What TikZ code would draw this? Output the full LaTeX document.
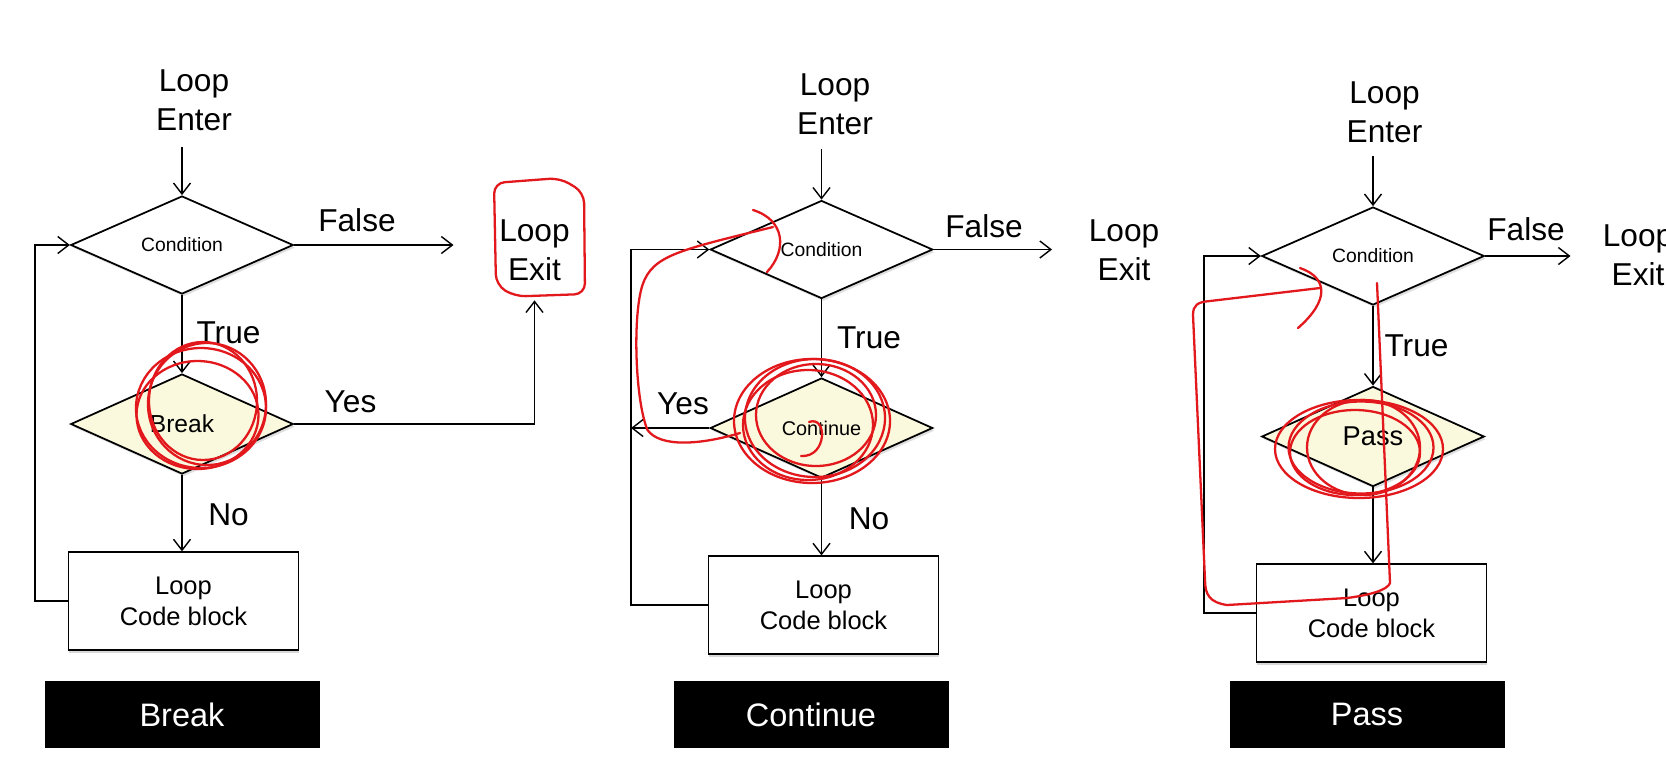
\documentclass[tikz,border=0pt]{standalone}
\usepackage{fontspec}
\setmainfont{Liberation Sans}
\usetikzlibrary{shapes.geometric,arrows.meta,shadows}
\definecolor{chiffon}{RGB}{251,249,221}
\definecolor{penred}{RGB}{226,24,28}

\begin{document}
\begin{tikzpicture}[
    flow/.style={-{Straight Barb[length=2.2mm,width=3.4mm]},line width=0.8pt},
    test/.style={diamond,draw,line width=1pt,fill=white,minimum width=4.45cm,minimum height=1.96cm,inner sep=0pt,
        font=\fontsize{11}{13}\selectfont,drop shadow={shadow xshift=1pt,shadow yshift=-1.5pt,opacity=0.25}},
    jump/.style={test,fill=chiffon,minimum height=2cm},
    block/.style={rectangle,draw,line width=1pt,fill=white,minimum width=4.6cm,minimum height=1.95cm,align=center,
        font=\fontsize{14.5}{17.5}\selectfont,drop shadow={shadow xshift=0pt,shadow yshift=-2pt,opacity=0.3}},
    word/.style={align=center,font=\fontsize{18}{22}\selectfont},
    tag/.style={fill=black,text=white,minimum width=5.5cm,minimum height=1.34cm,font=\fontsize{18.5}{22}\selectfont},
    pen/.style={draw=penred,line width=1.3pt,line cap=round,line join=round}
]
\path[use as bounding box,fill=white] (0,0) rectangle (33.32,-15.4);
\clip (0,0) rectangle (33.32,-15.4);

% break
\node[word]  (enter1) at (3.88,-2.01)  {Loop\\Enter};
\coordinate  (in1)    at (3.64,-2.94);
\node[test]  (cond1)  at (3.64,-4.90)  {Condition};
\node[word]  (false1) at (7.14,-4.40)  {False};
\coordinate  (f1)     at (9.07,-4.90);
\node[word,minimum height=2cm] (exit1) at (10.69,-5.00) {Loop\\Exit};
\node[word]  (true1)  at (4.57,-6.65)  {True};
\node[jump,font=\fontsize{14}{16}\selectfont] (brk) at (3.64,-8.48) {Break};
\node[word]  (yes1)   at (7.01,-8.03)  {Yes};
\node[word]  (no1)    at (4.57,-10.29) {No};
\node[block] (code1)  at (3.67,-12.02) {Loop\\Code block};
\coordinate  (b1)     at (0.70,-12.02);
\node[tag]   (tag1)   at (3.64,-14.29) {Break};

\draw[flow] (in1) -- (cond1.north);
\draw[flow] (cond1.east) -- (f1);
\draw[flow] (cond1.south) -- (brk.north);
\draw[flow] (brk.east) -| (exit1.south);
\draw[flow] (brk.south) -- (brk.south |- code1.north);
\draw[flow] (code1.west) -- (b1) |- (cond1.west);

% continue
\node[word]  (enter2) at (16.70,-2.08) {Loop\\Enter};
\coordinate  (in2)    at (16.43,-2.98);
\node[test]  (cond2)  at (16.43,-4.99) {Condition};
\node[word]  (false2) at (19.68,-4.53) {False};
\coordinate  (f2)     at (21.04,-4.99);
\node[word]  (exit2)  at (22.48,-5.00) {Loop\\Exit};
\node[word]  (true2)  at (17.38,-6.76) {True};
\node[jump,font=\fontsize{11.3}{13}\selectfont] (cont) at (16.43,-8.56) {Continue};
\node[word]  (yes2)   at (13.66,-8.07) {Yes};
\node[word]  (no2)    at (17.38,-10.37) {No};
\node[block] (code2)  at (16.47,-12.10) {Loop\\Code block};
\coordinate  (b2)     at (12.62,-12.10);
\node[tag]   (tag2)   at (16.22,-14.29) {Continue};

\draw[flow] (in2) -- (cond2.north);
\draw[flow] (cond2.east) -- (f2);
\draw[flow] (cond2.south) -- (cont.north);
\draw[flow] (cont.west) -- (cont.west -| b2);
\draw[flow] (cont.south) -- (cont.south |- code2.north);
\draw[flow] (code2.west) -- (b2) |- (cond2.west);

% pass
\node[word]  (enter3) at (27.69,-2.24) {Loop\\Enter};
\coordinate  (in3)    at (27.46,-3.12);
\node[test]  (cond3)  at (27.46,-5.12) {Condition};
\node[word]  (false3) at (30.52,-4.59) {False};
\coordinate  (f3)     at (31.41,-5.12);
\node[word]  (exit3)  at (32.76,-5.11) {Loop\\Exit};
\node[word]  (true3)  at (28.33,-6.91) {True};
\node[jump,font=\fontsize{15.5}{18}\selectfont] (pass) at (27.46,-8.73) {Pass};
\node[block] (code3)  at (27.43,-12.26) {Loop\\Code block};
\coordinate  (b3)     at (24.08,-12.26);
\node[tag]   (tag3)   at (27.34,-14.29) {Pass};

\draw[flow] (in3) -- (cond3.north);
\draw[flow] (cond3.east) -- (f3);
\draw[flow] (cond3.south) -- (pass.north);
\draw[flow] (pass.south) -- (pass.south |- code3.north);
\draw[flow] (code3.west) -- (b3) |- (cond3.west);

% red pen
\draw[pen,rounded corners=6pt] (9.88,-3.66) -- (11.2,-3.56) -- (11.68,-3.85) -- (11.7,-5.88) -- (10.3,-5.93) -- (9.92,-5.7) -- cycle;
\draw[pen] (4.02,-8.16) ellipse (1.3 and 1.2);
\draw[pen] (4.14,-8.08) ellipse (1.18 and 1.22);
\draw[pen] (3.95,-8.30) ellipse (1.22 and 1.08);
\draw[pen] (4.06,-8.02) ellipse (1.08 and 1.18);

\draw[pen] (16.24,-8.42) ellipse (1.56 and 1.24);
\draw[pen] (16.30,-8.36) ellipse (1.40 and 1.18);
\draw[pen] (16.16,-8.50) ellipse (1.30 and 1.10);
\draw[pen] (16.32,-8.30) ellipse (1.20 and 1.02);
\draw[pen] (16.18,-8.44) .. controls (16.55,-8.30) and (16.55,-9.15) .. (16.02,-9.12);
\draw[pen] (14.80,-8.66) .. controls (14.0,-8.9) and (13.2,-8.95) .. (12.95,-8.6)
    .. controls (12.7,-8.0) and (12.65,-6.3) .. (12.85,-5.7)
    .. controls (13.05,-5.1) and (13.6,-5.0) .. (15.46,-4.54);
\draw[pen] (15.06,-4.20) .. controls (15.7,-4.4) and (15.75,-5.0) .. (15.34,-5.44);

\draw[pen] (27.18,-8.98) ellipse (1.68 and 0.98);
\draw[pen] (27.22,-8.95) ellipse (1.45 and 0.92);
\draw[pen] (27.27,-8.95) ellipse (1.13 and 0.95);
\draw[pen] (27.10,-9.05) ellipse (1.30 and 0.85);
\draw[pen] (27.54,-5.66) -- (27.80,-11.66) .. controls (27.75,-11.8) and (27.4,-11.9) .. (26.94,-11.96)
    -- (24.54,-12.10) .. controls (24.2,-12.05) and (24.1,-11.9) .. (24.1,-11.6)
    -- (23.86,-6.3) .. controls (23.86,-6.1) and (23.95,-6.04) .. (24.2,-6.02) -- (26.4,-5.76);
\draw[pen] (26.00,-5.36) .. controls (26.55,-5.55) and (26.6,-6.0) .. (25.96,-6.56);
\end{tikzpicture}
\end{document}
